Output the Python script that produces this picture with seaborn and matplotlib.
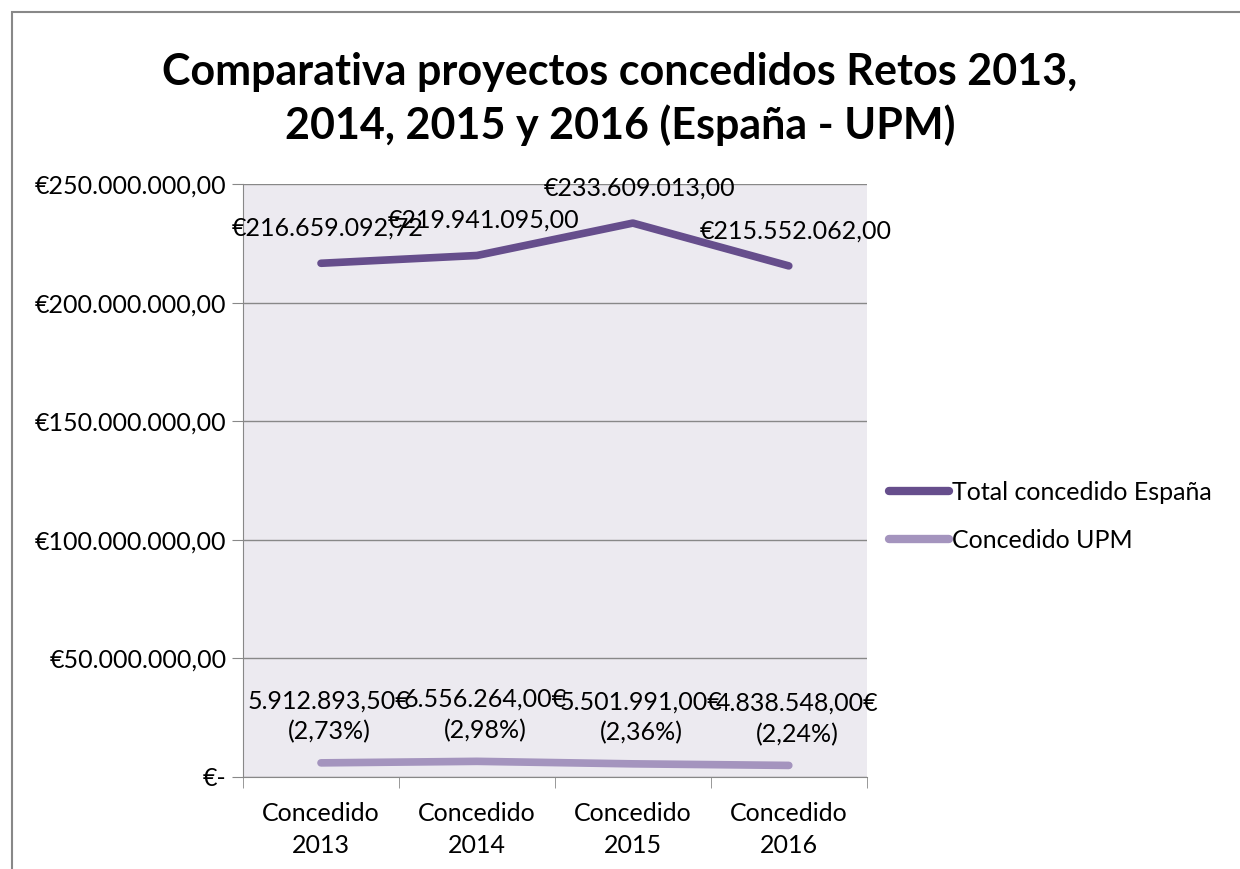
import matplotlib
matplotlib.use("Agg")
import matplotlib.pyplot as plt
import seaborn as sns
import pandas as pd
from matplotlib.patches import Rectangle

# data
categories = ["Concedido\n2013", "Concedido\n2014", "Concedido\n2015", "Concedido\n2016"]
total_espana = [216659092.72, 219941095.00, 233609013.00, 215552062.00]
concedido_upm = [5912893.50, 6556264.00, 5501991.00, 4838548.00]
total_labels = ["€216.659.092,72", "€219.941.095,00", "€233.609.013,00", "€215.552.062,00"]
upm_labels = ["5.912.893,50€\n(2,73%)", "6.556.264,00€\n(2,98%)",
              "5.501.991,00€\n(2,36%)", "4.838.548,00€\n(2,24%)"]
y_ticks = [0, 50000000, 100000000, 150000000, 200000000, 250000000]
y_tick_labels = ["€-", "€50.000.000,00", "€100.000.000,00", "€150.000.000,00",
                 "€200.000.000,00", "€250.000.000,00"]
series_names = ["Total concedido España", "Concedido UPM"]

df = pd.DataFrame({
    "pos": list(range(4)) * 2,
    "valor": total_espana + concedido_upm,
    "serie": [series_names[0]] * 4 + [series_names[1]] * 4,
})

plt.rcParams['font.family'] = ['Lato', 'DejaVu Sans']
fs = 18

fig = plt.figure(figsize=(12.4, 8.69), dpi=100)
ax = fig.add_axes([0.196, 0.106, 0.503, 0.682])
ax.set_facecolor("#ECEAF0")

palette = {series_names[0]: "#664E8C", series_names[1]: "#A494BE"}
sns.lineplot(data=df, x="pos", y="valor", hue="serie", palette=palette,
             linewidth=5.5, ax=ax, legend=True, solid_capstyle="round")

ax.set_xlim(-0.5, 3.5)
ax.set_ylim(0, 250000000)
ax.set_yticks(y_ticks)
ax.set_yticklabels(y_tick_labels, fontsize=fs)
ax.set_xticks(range(4))
ax.set_xticklabels(categories, fontsize=fs, linespacing=1.5)
ax.set_xticks([-0.5, 0.5, 1.5, 2.5, 3.5], minor=True)
ax.tick_params(axis="x", which="major", length=0, pad=18)
ax.tick_params(axis="x", which="minor", length=8, color="#888888")
ax.tick_params(axis="y", length=8, color="#888888", pad=4)
ax.set_xlabel("")
ax.set_ylabel("")
ax.grid(axis="y", color="#888888", linewidth=1)
ax.set_axisbelow(True)
for s in ["top", "right"]:
    ax.spines[s].set_visible(False)
for s in ["left", "bottom"]:
    ax.spines[s].set_color("#888888")

for i, (v, lab) in enumerate(zip(total_espana, total_labels)):
    ax.annotate(lab, (i, v), xytext=(5, 17), textcoords="offset points",
                ha="center", va="bottom", fontsize=fs)
for i, (v, lab) in enumerate(zip(concedido_upm, upm_labels)):
    ax.annotate(lab, (i, v), xytext=(6, 14), textcoords="offset points",
                ha="center", va="bottom", fontsize=fs, linespacing=1.4)

leg = ax.legend(loc="center left", bbox_to_anchor=(1.0, 0.44), frameon=False,
                fontsize=fs, handlelength=2.4, handletextpad=0.1, labelspacing=1.0)
for h in leg.get_lines():
    h.set_linewidth(6)

fig.text(0.5, 0.886, "Comparativa proyectos concedidos Retos 2013,\n2014, 2015 y 2016 (España - UPM)",
         ha="center", va="center", fontsize=31, fontweight="bold", linespacing=1.35)

fig.patches.append(Rectangle((12 / 1240, -0.1), 1.2, 1 - 12 / 869 + 0.1,
                             transform=fig.transFigure, fill=False,
                             edgecolor="#888888", linewidth=1.5))

fig.savefig("out.png", dpi=100)
